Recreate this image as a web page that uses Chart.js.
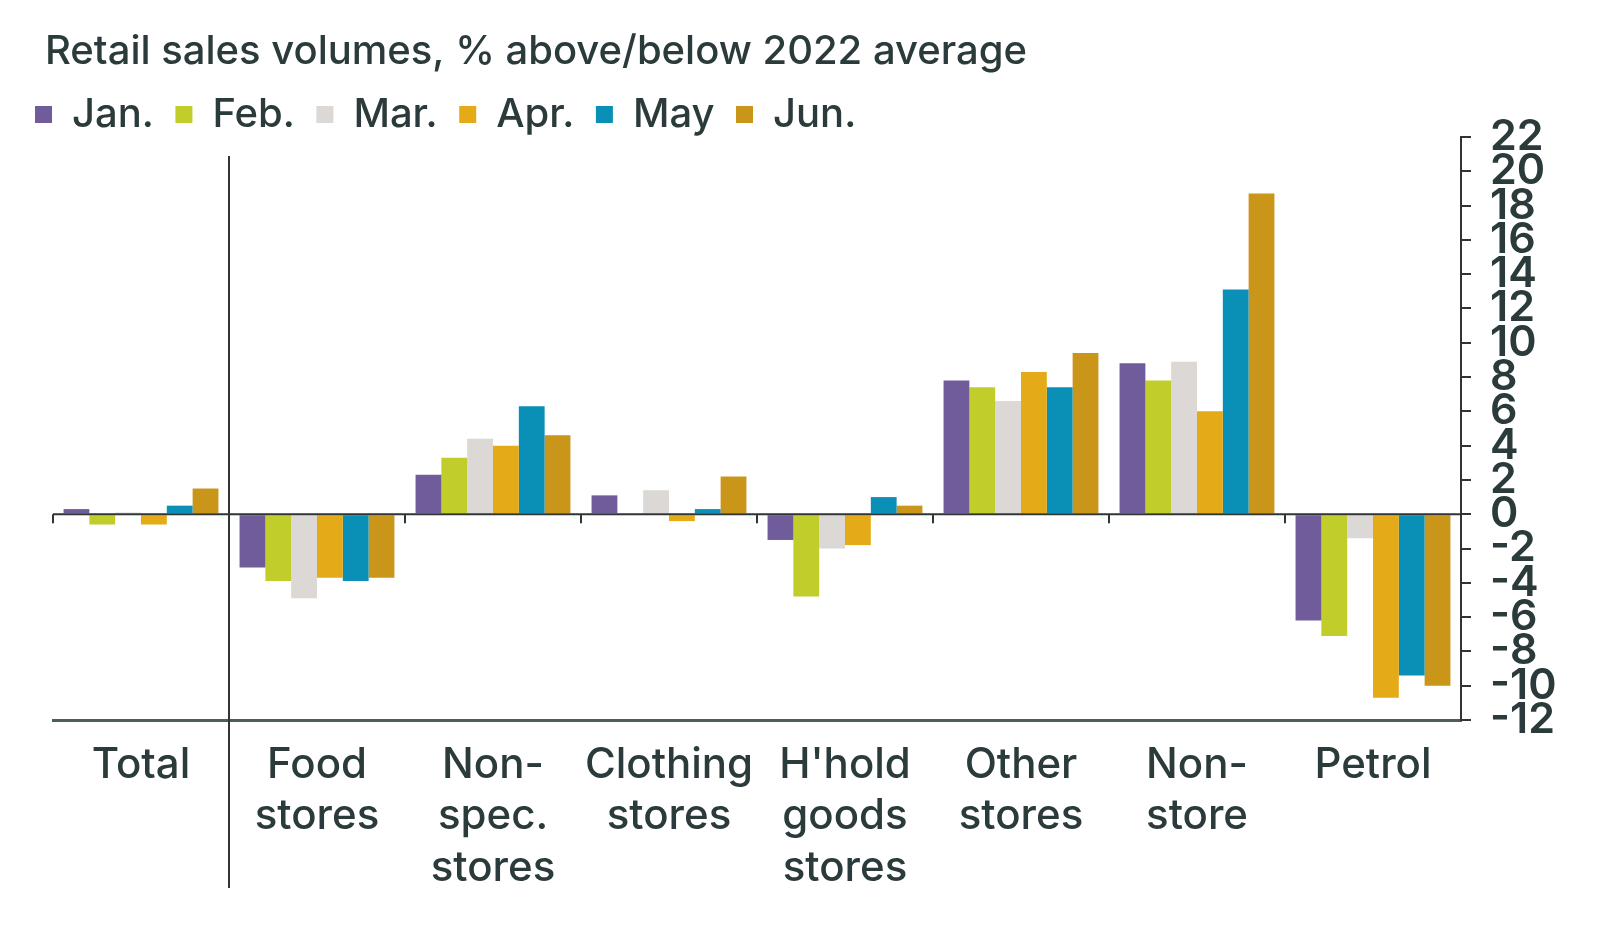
<!DOCTYPE html>
<html>
<head>
<meta charset="utf-8">
<title>Retail sales volumes</title>
<script src="https://cdn.jsdelivr.net/npm/chart.js@4.4.1/dist/chart.umd.min.js"></script>
<style>
  html, body { margin: 0; padding: 0; background: #fff; }
  #wrap { width: 1600px; height: 941px; }
</style>
</head>
<body>
<div id="wrap"><canvas id="retailChart"></canvas></div>
<script>
// Store types along the x axis (multi-line labels)
const categories = [
    ['Total'],
    ['Food', 'stores'],
    ['Non-', 'spec.', 'stores'],
    ['Clothing', 'stores'],
    ["H'hold", 'goods', 'stores'],
    ['Other', 'stores'],
    ['Non-', 'store'],
    ['Petrol']
];

// Retail sales volumes, % above/below 2022 average, one array per month
const months = ['Jan.', 'Feb.', 'Mar.', 'Apr.', 'May', 'Jun.'];
const jan = [0.3, -3.1, 2.3, 1.1, -1.5, 7.8, 8.8, -6.2];
const feb = [-0.6, -3.9, 3.3, 0.0, -4.8, 7.4, 7.8, -7.1];
const mar = [0.1, -4.9, 4.4, 1.4, -2.0, 6.6, 8.9, -1.4];
const apr = [-0.6, -3.7, 4.0, -0.4, -1.8, 8.3, 6.0, -10.7];
const may = [0.5, -3.9, 6.3, 0.3, 1.0, 7.4, 13.1, -9.4];
const jun = [1.5, -3.7, 4.6, 2.2, 0.5, 9.4, 18.7, -10.0];
const monthColors = ['#705b9b', '#c0cd2b', '#dbd8d5', '#e5aa17', '#0a8fb6', '#c9961a'];

// y axis range / tick step
const yMin = -12;
const yMax = 22;
const yStep = 2;

const titleText = 'Retail sales volumes, % above/below 2022 average';
const textColor = '#2b3a3a';
const fontFamily = 'Inter, "DejaVu Sans", sans-serif';

Chart.defaults.font.family = fontFamily;
Chart.defaults.font.weight = 500;

// title, zero line with its little ticks, and the Total separator
const decorations = {
    id: 'decorations',
    beforeLayout(chart) {
        // legend box is a bit taller than in the original, trim it
        const lg = chart.legend;
        if (lg && !lg._trimmed) {
            const fit = lg.fit.bind(lg);
            lg.fit = function () { fit(); this.height -= 7.5; };
            lg._trimmed = true;
        }
    },
    afterDatasetsDraw(chart) {
        const {ctx, chartArea, scales: {x, y}} = chart;
        const zeroY = y.getPixelForValue(0);
        ctx.save();
        ctx.strokeStyle = '#2f3434';
        ctx.lineWidth = 2;
        ctx.beginPath();
        ctx.moveTo(chartArea.left, zeroY);
        ctx.lineTo(chartArea.right, zeroY);
        for (let i = 0; i < categories.length; i++) {
            const bx = i === 0 ? chartArea.left : (x.getPixelForValue(i - 1) + x.getPixelForValue(i)) / 2;
            ctx.moveTo(bx, zeroY);
            ctx.lineTo(bx, zeroY + 9);
        }
        ctx.stroke();

        const sepX = (x.getPixelForValue(0) + x.getPixelForValue(1)) / 2;
        ctx.beginPath();
        ctx.moveTo(sepX, chartArea.top + 19);
        ctx.lineTo(sepX, x.bottom - 53);
        ctx.stroke();
        ctx.restore();
    },
    afterDraw(chart) {
        const ctx = chart.ctx;
        ctx.save();
        ctx.fillStyle = textColor;
        ctx.font = '500 40px ' + fontFamily;
        ctx.textBaseline = 'middle';
        ctx.fillText(titleText, 45, 52);
        ctx.restore();
    }
};

const series = [jan, feb, mar, apr, may, jun];

const ctx = document.getElementById('retailChart').getContext('2d');
const chart = new Chart(ctx, {
    type: 'bar',
    data: {
        labels: categories,
        datasets: series.map((vals, i) => ({
            label: months[i],
            data: vals,
            backgroundColor: monthColors[i],
            borderWidth: 0,
            categoryPercentage: 0.88,
            barPercentage: 1.0,
            yAxisID: 'y'
        }))
    },
    options: {
        responsive: true,
        maintainAspectRatio: false,
        animation: false,
        layout: {
            padding: {top: 73, left: 13.5, right: 0, bottom: 0}
        },
        plugins: {
            title: {display: false},
            tooltip: {enabled: false},
            legend: {
                position: 'top',
                align: 'start',
                labels: {
                    boxWidth: 17,
                    boxHeight: 17,
                    padding: 21.5,
                    color: textColor,
                    font: {size: 40, weight: 500}
                }
            }
        },
        scales: {
            x: {
                grid: {display: false, drawTicks: false},
                border: {display: true, color: '#4d5c5c', width: 3},
                ticks: {
                    color: textColor,
                    font: {size: 42, weight: 500, lineHeight: 1.22},
                    padding: 20,
                    autoSkip: false,
                    maxRotation: 0
                },
                afterFit(scale) { scale.height = 221; }
            },
            y: {
                position: 'right',
                min: yMin,
                max: yMax,
                ticks: {
                    stepSize: yStep,
                    autoSkip: false,
                    padding: 19,
                    color: textColor,
                    font: {size: 43, weight: 600}
                },
                grid: {drawOnChartArea: false, drawTicks: true, tickLength: 10, color: '#333', lineWidth: 2},
                border: {display: true, color: '#333', width: 2},
                afterFit(scale) { scale.width = 139; }
            },
            yLeft: {
                position: 'left',
                ticks: {display: false},
                grid: {display: false, drawTicks: false},
                border: {display: false},
                afterFit(scale) { scale.width = 39.5; }
            }
        }
    },
    plugins: [decorations]
});
</script>
</body>
</html>
